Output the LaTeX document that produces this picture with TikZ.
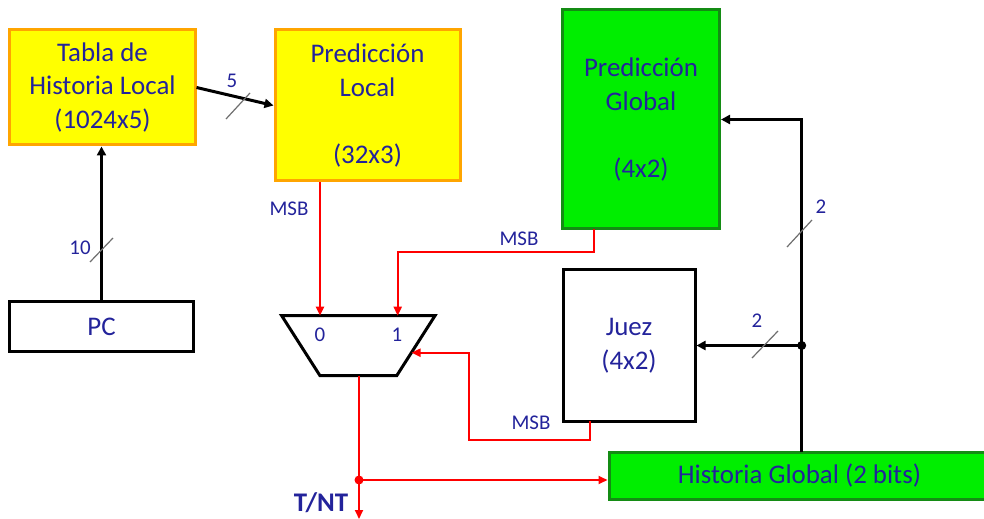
\documentclass[tikz,border=0pt]{standalone}
\usepackage{fontspec}
\setmainfont{Carlito}
\usetikzlibrary{arrows.meta}
\definecolor{txtblue}{RGB}{35,35,155}
\definecolor{boxyellow}{RGB}{255,255,0}
\definecolor{boxorange}{RGB}{255,165,0}
\definecolor{boxgreen}{RGB}{0,238,0}
\definecolor{darkgreen}{RGB}{20,140,20}
\definecolor{wirered}{RGB}{255,0,0}
\definecolor{slashgray}{RGB}{110,110,110}
\tikzset{
  bigtext/.style={font=\fontsize{27}{34}\selectfont, text=txtblue, align=center},
  smalltext/.style={font=\fontsize{21}{24}\selectfont, text=txtblue, inner sep=0},
  ybox/.style={draw=boxorange, fill=boxyellow, line width=3bp, inner sep=0, bigtext},
  gbox/.style={draw=darkgreen, fill=boxgreen, line width=3bp, inner sep=0, bigtext},
  wbox/.style={draw=black, fill=white, line width=3bp, inner sep=0, bigtext},
  blackwire/.style={draw=black, line width=3bp, -{Triangle[length=9bp,width=9bp]}},
  blackline/.style={draw=black, line width=3bp},
  redwire/.style={draw=wirered, line width=2bp, -{Triangle[length=9bp,width=8bp]}},
  slash/.style={draw=slashgray, line width=1.2bp},
  dotblack/.style={circle, fill=black, inner sep=0, minimum size=9bp},
  dotred/.style={circle, fill=wirered, inner sep=0, minimum size=9bp},
}
\begin{document}
\begin{tikzpicture}[x=1bp,y=-1bp]
\useasboundingbox (0,0) rectangle (984,519);
\clip (0,0) rectangle (984,519);

% boxes
\node[ybox, minimum width=185bp, minimum height=115bp] (tabla) at (102.5,87.5) {Tabla de\\Historia Local\\(1024x5)};
\node[ybox, minimum width=185bp, minimum height=151bp] (predl) at (367.5,105.5) {Predicción\\Local\\~\\(32x3)};
\node[wbox, minimum width=183bp, minimum height=49bp] (pc) at (101.5,326.5) {PC};
\node[gbox, minimum width=157bp, minimum height=219bp] (predg) at (641,119.5) {Predicción\\Global\\~\\(4x2)};
\node[wbox, minimum width=132bp, minimum height=151bp] (juez) at (629,345.5) {Juez\\(4x2)};
\node[gbox, minimum width=383bp, minimum height=47bp] (hist) at (800.5,475.5) {};
\node[bigtext, inner sep=0] (histtext) at (799.5,476) {Historia Global (2 bits)};

% multiplexer
\coordinate (mtl) at (281.7,315.7);
\coordinate (mtr) at (435,315.7);
\coordinate (mbr) at (396.7,375.7);
\coordinate (mbl) at (320,375.7);
\draw[line width=3bp, fill=white, line join=miter] (mtl) -- (mtr) -- (mbr) -- (mbl) -- cycle;
\node[smalltext] (in0) at (320,335) {0};
\node[smalltext] (in1) at (397,335) {1};
\coordinate (m0) at (320,315.7);
\coordinate (m1) at (397.7,315.7);
\coordinate (mr) at (411.5,352.7);
\coordinate (mo) at (359,375.7);

% local path
\draw[blackwire] (tabla.east) -- (predl.west);
\draw[blackwire] (pc.north) -- (pc.north |- tabla.south);
\draw[slash] (226,119) -- (250,93);
\node[smalltext] (l5) at (232,81) {5};
\draw[slash] (90,262) -- (113,238);
\node[smalltext] (l10) at (80,248) {10};

% red wires into mux
\draw[redwire] (m0 |- predl.south) -- (m0);
\node[smalltext] (msb1) at (289,209) {MSB};
\coordinate (pgout) at (594.3,229);
\draw[redwire] (pgout) -- ++(0,22.7) -| (m1);
\node[smalltext] (msb2) at (519,239) {MSB};
\coordinate (jout) at (590,421);
\draw[redwire] (jout) -- ++(0,19) -| (469.3,352.7) -- (mr);
\node[smalltext] (msb3) at (531,423) {MSB};

% mux output
\coordinate (tnt) at (359,519);
\node[dotred] (jn) at (359,480) {};
\draw[redwire] (mo) -- (tnt);
\draw[redwire] (jn.center) -- (jn -| hist.west);
\node[font=\fontsize{27}{30}\selectfont\bfseries, text=txtblue, inner sep=0] (tntl) at (321,503) {T/NT};

% global history wires
\coordinate (hg) at (801.7,452);
\node[dotblack] (jd) at (801.7,345.5) {};
\draw[blackwire] (hg) |- (predg.east);
\draw[blackwire] (jd.center) -- (juez.east);
\draw[slash] (787,247) -- (812,220);
\node[smalltext] (l2a) at (821,207) {2};
\draw[slash] (752,358) -- (778,331);
\node[smalltext] (l2b) at (757,321) {2};
\end{tikzpicture}
\end{document}
